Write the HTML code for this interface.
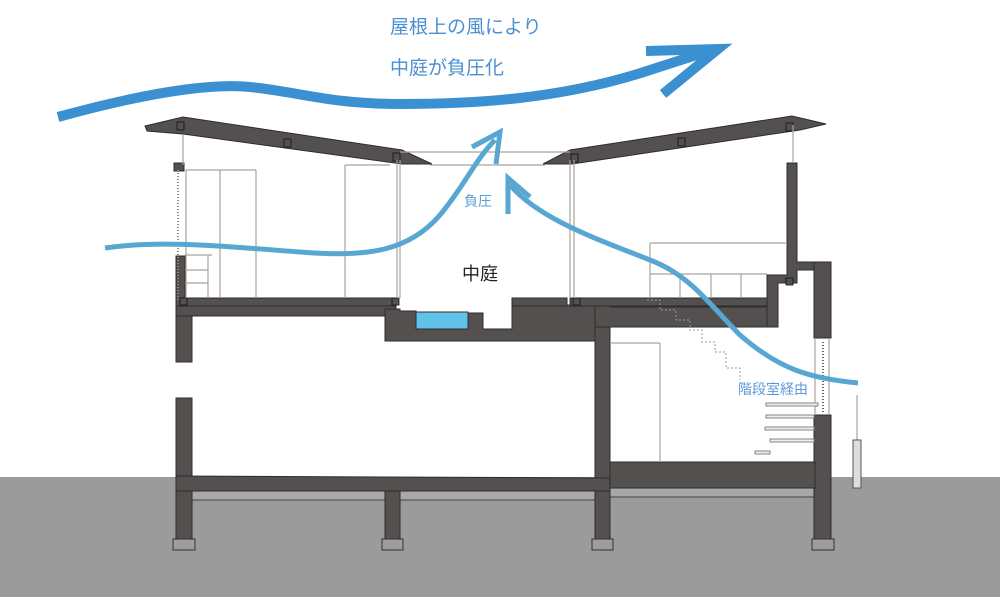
<!DOCTYPE html>
<html><head><meta charset="utf-8"><style>
html,body{margin:0;padding:0;background:#fff;width:1000px;height:597px;overflow:hidden}
svg{display:block}
text{font-family:"Liberation Sans","Noto Sans CJK JP",sans-serif}
</style></head><body>
<svg width="1000" height="597" viewBox="0 0 1000 597" xmlns="http://www.w3.org/2000/svg">
<rect x="0" y="477" width="1000" height="120" fill="#9b9b9b"/>
<rect x="191" y="491" width="194" height="9" fill="#a8a8a8" stroke="#444" stroke-width="1"/>
<rect x="400" y="491" width="195" height="9" fill="#a8a8a8" stroke="#444" stroke-width="1"/>
<rect x="610" y="488" width="205" height="9" fill="#a8a8a8" stroke="#444" stroke-width="1"/>
<g fill="#545050" stroke="#2e2c2c" stroke-width="1">
<rect x="176" y="305" width="16" height="57"/>
<rect x="176" y="398" width="16" height="142"/>
<rect x="176" y="305" width="220" height="11"/>
<path d="M385 309 L400 309 L400 311 L416 311 L416 329 L468 329 L468 313 L483 313 L483 329 L512 329 L512 305 L595 305 L595 341 L385 341 Z"/>
<rect x="595" y="305" width="15" height="235"/>
<rect x="595" y="306" width="172" height="21"/>
<rect x="610" y="298" width="157" height="9"/>
<path d="M767 275 L787 275 L787 163 L797 163 L797 262 L830 262 L830 270 L797 270 L797 283 L778 283 L778 327 L767 327 Z"/>
<rect x="814" y="262" width="17" height="76"/>
<rect x="814" y="415" width="17" height="125"/>
<path d="M176 476 L610 478 L610 491 L176 491 Z"/>
<rect x="610" y="462" width="205" height="26"/>
<rect x="385" y="491" width="15" height="49"/>
<rect x="178" y="298" width="218" height="8"/>
<rect x="512" y="298" width="55" height="8"/>
<rect x="570" y="298" width="197" height="8"/>
<path d="M145 126 L183 117 L402 150 L432 164 L402 164 L183 134 L147 131 Z"/>
<path d="M543 164 L570 150 L792 116 L826 124 L800 130 L572 164 Z"/>
<rect x="174" y="163" width="10" height="8"/>
<rect x="176" y="256" width="9" height="50"/>
</g>
<!-- x-boxes -->
<g fill="#545050" stroke="#111" stroke-width="0.8">
<rect x="177" y="122" width="7" height="8"/><rect x="284" y="139" width="7" height="8"/><rect x="393" y="153" width="7" height="8"/>
<rect x="571" y="154" width="7" height="8"/><rect x="678" y="138" width="7" height="8"/><rect x="786" y="123" width="7" height="8"/>
<rect x="180" y="298" width="7" height="7"/><rect x="392" y="298" width="7" height="7"/><rect x="573" y="298" width="7" height="7"/><rect x="786" y="278" width="7" height="7"/>
</g>
<g fill="#9d9d9d" stroke="#333" stroke-width="1">
<rect x="173" y="539" width="22" height="11"/>
<rect x="382" y="539" width="21" height="11"/>
<rect x="592" y="539" width="21" height="11"/>
<rect x="812" y="539" width="22" height="11"/>
</g>
<rect x="416" y="312" width="52" height="17" fill="#62c3ea" stroke="#2e2c2c" stroke-width="1"/>
<g fill="none" stroke="#a9a29c" stroke-width="1.2">
<line x1="400" y1="152" x2="570" y2="152"/>
<line x1="430" y1="165" x2="545" y2="165"/>
<line x1="397" y1="160" x2="397" y2="298"/>
<line x1="400" y1="160" x2="400" y2="298"/>
<line x1="570" y1="160" x2="570" y2="298"/>
<line x1="574" y1="160" x2="574" y2="298"/>
<line x1="183" y1="135" x2="183" y2="165"/>
<line x1="186" y1="170" x2="256" y2="170"/>
<line x1="186" y1="170" x2="186" y2="298"/>
<line x1="220" y1="170" x2="220" y2="298"/>
<line x1="256" y1="170" x2="256" y2="298"/>
<line x1="345" y1="165" x2="345" y2="298"/>
<line x1="345" y1="165" x2="390" y2="165"/>
<line x1="185" y1="255" x2="212" y2="255"/>
<line x1="185" y1="270" x2="208" y2="270"/>
<line x1="185" y1="283" x2="208" y2="283"/>
<line x1="208" y1="255" x2="208" y2="298"/>
<line x1="650" y1="243" x2="786" y2="243"/>
<line x1="650" y1="243" x2="650" y2="298"/>
<line x1="650" y1="274" x2="767" y2="274"/>
<line x1="680" y1="274" x2="680" y2="298"/>
<line x1="711" y1="274" x2="711" y2="298"/>
<line x1="741" y1="274" x2="741" y2="298"/>
<line x1="610" y1="343" x2="660" y2="343"/>
<line x1="660" y1="343" x2="660" y2="462"/>
<line x1="793" y1="125" x2="793" y2="163"/>
<line x1="815" y1="338" x2="815" y2="415"/>
<line x1="829" y1="338" x2="829" y2="415"/>
<line x1="857" y1="395" x2="857" y2="440"/>
</g>
<g fill="#eee" stroke="#8a8480" stroke-width="1">
<rect x="766" y="403" width="52" height="3"/>
<rect x="766" y="415" width="48" height="3"/>
<rect x="765" y="427" width="49" height="3"/>
<rect x="770" y="439" width="44" height="3"/>
<rect x="755" y="451" width="15" height="3"/>
</g>
<rect x="853" y="440" width="8" height="48" fill="#ddd" stroke="#555"/>
<line x1="178" y1="170" x2="178" y2="300" stroke="#888" stroke-width="2" stroke-dasharray="1 2"/>
<line x1="823" y1="342" x2="823" y2="412" stroke="#666" stroke-width="2" stroke-dasharray="1 2"/>
<path d="M647 300 L660 300 L660 310 L676 310 L676 320 L690 320 L690 330 L702 330 L702 342 L715 342 L715 352 L726 352 L726 368 L740 368 L740 380" fill="none" stroke="#999" stroke-width="1" stroke-dasharray="2 2"/>
<g fill="none" stroke="#3a90d0">
<path d="M58 117 C120 100 200 82 250 87 C300 92 330 104 400 104 C470 104 560 100 650 70 L712 50" stroke-width="10"/>
<path d="M646 51 L718 49 L663 94" stroke-width="10" stroke-linejoin="miter"/>
</g>
<g fill="none" stroke="#57a7d2" stroke-width="5">
<path d="M105 248 C160 240 220 246 300 252 C370 258 410 250 440 215 C465 185 475 160 495 140"/>
<path d="M472 147 L500 132 L496 164"/>
<path d="M858 383 C810 378 780 370 740 335 C710 305 690 275 650 260 C600 240 540 220 510 185"/>
<path d="M508 214 L508 178 L530 197"/>
</g>
<text x="390" y="33" font-size="19" fill="#4a90d0">屋根上の風により</text>
<text x="390" y="74" font-size="19" fill="#4a90d0">中庭が負圧化</text>
<text x="464" y="206" font-size="14" fill="#5aa0d8">負圧</text>
<text x="462" y="280" font-size="18" fill="#222">中庭</text>
<text x="738" y="394" font-size="14" fill="#5a9ad8">階段室経由</text>
</svg>
</body></html>
